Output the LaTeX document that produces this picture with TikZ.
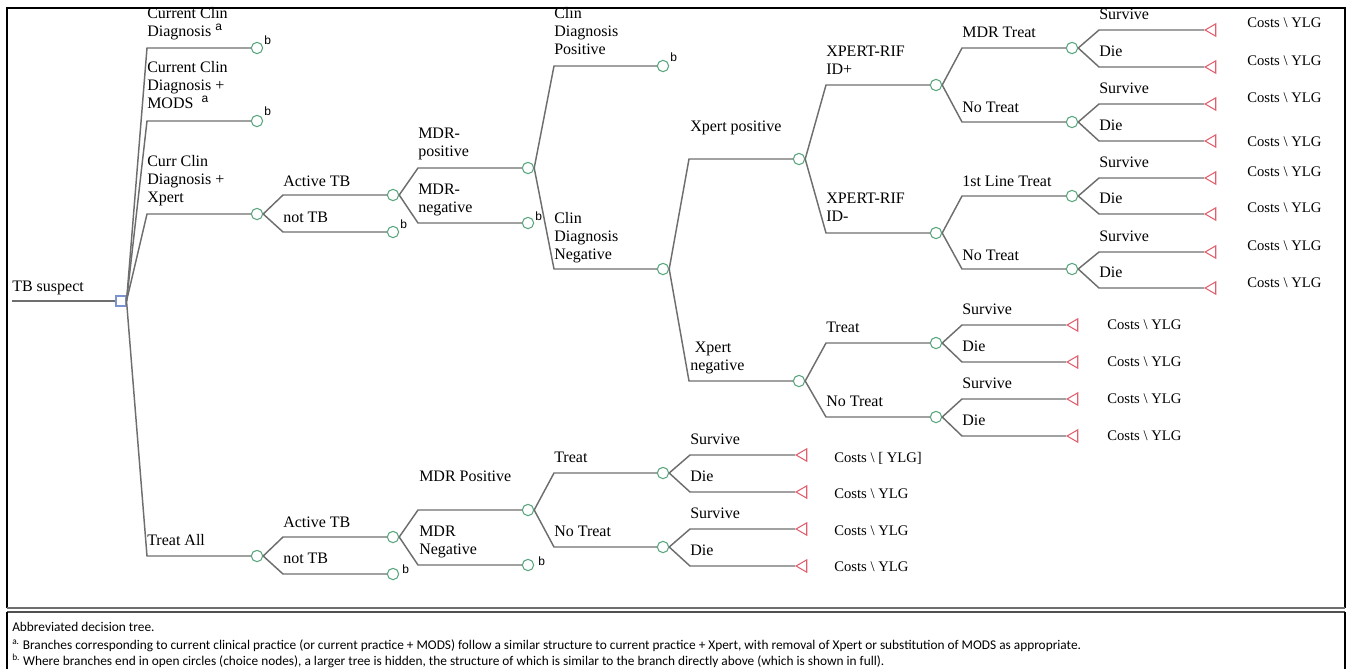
\documentclass[tikz,border=0pt]{standalone}
\usepackage{fontspec}
\setmainfont{Liberation Serif}
\newfontfamily\capfont{Carlito}
\newfontfamily\supfont{Liberation Sans}
\usetikzlibrary{shapes.geometric}
\definecolor{linegray}{HTML}{6E6E6E}
\definecolor{cgreen}{HTML}{5AA77F}
\definecolor{sqblue}{HTML}{7B93CF}
\definecolor{tred}{HTML}{E0606E}
\definecolor{framegray}{HTML}{505050}
\newcommand\conn[4]{\draw[br] (#1.east) -- (#2,#3) -- (#4);}
\newcommand\supa[2]{\hspace*{#1}\rlap{\raisebox{#2}{\supfont\fontsize{9}{10}\selectfont a}}}
\begin{document}
\begin{tikzpicture}[x=0.75pt,y=-0.75pt,
  br/.style={draw=linegray, line width=1.1pt},
  chance/.style={circle, draw=cgreen, fill=white, line width=0.8pt, minimum size=8.5pt, inner sep=0pt},
  decis/.style={rectangle, draw=sqblue, fill=white, line width=0.8pt, minimum size=7.5pt, inner sep=0pt},
  term/.style={isosceles triangle, isosceles triangle apex angle=60, shape border rotate=180, draw=tred, fill=white, line width=0.8pt, minimum height=8pt, minimum width=8pt, inner sep=0pt, anchor=apex},
  lbl/.style={anchor=south west, inner sep=0pt, text depth=0pt, align=left, font=\fontsize{12}{13.5}\selectfont},
  cost/.style={anchor=west, inner sep=0pt, font=\fontsize{11}{13}\selectfont},
  smark/.style={anchor=base west, inner sep=0pt, font=\supfont\fontsize{9}{10}\selectfont},
  captxt/.style={anchor=base west, inner sep=0pt, font=\capfont\fontsize{10}{12}\selectfont}
]
\useasboundingbox (0,0) rectangle (1353,669);
% frames
\draw[black, line width=0.9pt] (7,608) -- (7,8) -- (1345,8) -- (1345,608);
\draw[linegray, line width=0.8pt] (7,608) -- (1345,608);
\draw[framegray, line width=2pt] (7,612) -- (1345,612);
\draw[black, line width=0.9pt] (7,612) -- (7,669);
\draw[black, line width=0.9pt] (1345,612) -- (1345,669);

% root
\coordinate (root) at (12,301);
\node[decis] (dec) at (121,301) {};
\draw[br] (root) -- (dec.west);
\node[lbl] at (12,292) {TB suspect};

% level 1
\node[chance] (c1) at (257,48) {};
\node[chance] (c2) at (257,121) {};
\node[chance] (c3) at (257,214) {};
\node[chance] (c4) at (257,556) {};
\conn{dec}{147}{48}{c1.west}
\conn{dec}{147}{121}{c2.west}
\conn{dec}{147}{214}{c3.west}
\conn{dec}{147}{556}{c4.west}
\node[lbl] at (147,37) {Current Clin\\Diagnosis\supa{3pt}{4.5pt}};
\node[smark] at (264,44) {b};
\node[lbl] at (147,109) {Current Clin\\Diagnosis +\\MODS\supa{6pt}{4.5pt}};
\node[smark] at (264,115) {b};
\node[lbl] at (147,203) {Curr Clin\\Diagnosis +\\Xpert};
\node[lbl] at (147,546) {Treat All};

% Xpert arm
\node[chance] (c31) at (393,195) {};
\node[chance] (c32) at (393,232) {};
\conn{c3}{283}{195}{c31.west}
\conn{c3}{283}{232}{c32.west}
\node[lbl] at (283,187) {Active TB};
\node[lbl] at (283,223) {not TB};
\node[smark] at (400,228) {b};

\node[chance] (c311) at (528,168) {};
\node[chance] (c312) at (528,223) {};
\conn{c31}{418}{168}{c311.west}
\conn{c31}{418}{223}{c312.west}
\node[lbl] at (418,157) {MDR-\\positive};
\node[lbl] at (418,213) {MDR-\\negative};
\node[smark] at (535,220) {b};

\node[chance] (c3111) at (663,66) {};
\node[chance] (c3112) at (663,269) {};
\conn{c311}{554}{66}{c3111.west}
\conn{c311}{554}{269}{c3112.west}
\node[lbl] at (554,55) {Clin\\Diagnosis\\Positive};
\node[lbl] at (554,260) {Clin\\Diagnosis\\Negative};
\node[smark] at (670,61) {b};

\node[chance] (xp) at (799,159) {};
\node[chance] (xn) at (799,381) {};
\conn{c3112}{689}{159}{xp.west}
\conn{c3112}{689}{381}{xn.west}
\node[lbl] at (690,132) {Xpert positive};
\node[lbl] at (690,371) {\hspace*{3.5pt}Xpert\\negative};

\node[chance] (idp) at (936,85) {};
\node[chance] (idn) at (936,233) {};
\conn{xp}{826}{85}{idp.west}
\conn{xp}{826}{233}{idn.west}
\node[lbl] at (826,75) {XPERT-RIF\\ID+};
\node[lbl] at (826,222) {XPERT-RIF\\ID-};

\node[chance] (mt) at (1072,48) {};
\node[chance] (nt1) at (1072,122) {};
\node[chance] (flt) at (1072,196) {};
\node[chance] (nt2) at (1072,269) {};
\conn{idp}{962}{48}{mt.west}
\conn{idp}{962}{122}{nt1.west}
\conn{idn}{962}{196}{flt.west}
\conn{idn}{962}{269}{nt2.west}
\node[lbl] at (962,38) {MDR Treat};
\node[lbl] at (962,113) {No Treat};
\node[lbl] at (962,187) {1st Line Treat};
\node[lbl] at (962,261) {No Treat};

\node[term] (t1) at (1204,30) {};
\node[term] (t2) at (1204,67) {};
\node[term] (t3) at (1204,104) {};
\node[term] (t4) at (1204,141) {};
\node[term] (t5) at (1204,178) {};
\node[term] (t6) at (1204,214) {};
\node[term] (t7) at (1204,252) {};
\node[term] (t8) at (1204,288) {};
\conn{mt}{1099}{30}{t1.apex}
\conn{mt}{1099}{67}{t2.apex}
\conn{nt1}{1099}{104}{t3.apex}
\conn{nt1}{1099}{141}{t4.apex}
\conn{flt}{1099}{178}{t5.apex}
\conn{flt}{1099}{214}{t6.apex}
\conn{nt2}{1099}{252}{t7.apex}
\conn{nt2}{1099}{288}{t8.apex}
\node[lbl] at (1099,20) {Survive};
\node[lbl] at (1099,57) {Die};
\node[lbl] at (1099,94) {Survive};
\node[lbl] at (1099,131) {Die};
\node[lbl] at (1099,168) {Survive};
\node[lbl] at (1099,204) {Die};
\node[lbl] at (1099,242) {Survive};
\node[lbl] at (1099,278) {Die};
\node[cost] at (1247,23) {Costs \textbackslash{} YLG};
\node[cost] at (1247,61) {Costs \textbackslash{} YLG};
\node[cost] at (1247,98) {Costs \textbackslash{} YLG};
\node[cost] at (1247,142) {Costs \textbackslash{} YLG};
\node[cost] at (1247,172) {Costs \textbackslash{} YLG};
\node[cost] at (1247,208) {Costs \textbackslash{} YLG};
\node[cost] at (1247,246) {Costs \textbackslash{} YLG};
\node[cost] at (1247,283) {Costs \textbackslash{} YLG};

% Xpert negative
\node[chance] (tr) at (936,343) {};
\node[chance] (nt3) at (936,417) {};
\conn{xn}{826}{343}{tr.west}
\conn{xn}{826}{417}{nt3.west}
\node[lbl] at (826,333) {Treat};
\node[lbl] at (826,407) {No Treat};
\node[term] (t9) at (1066,325) {};
\node[term] (t10) at (1066,362) {};
\node[term] (t11) at (1066,399) {};
\node[term] (t12) at (1066,436) {};
\conn{tr}{962}{325}{t9.apex}
\conn{tr}{962}{362}{t10.apex}
\conn{nt3}{962}{399}{t11.apex}
\conn{nt3}{962}{436}{t12.apex}
\node[lbl] at (962,315) {Survive};
\node[lbl] at (962,352) {Die};
\node[lbl] at (962,389) {Survive};
\node[lbl] at (962,426) {Die};
\node[cost] at (1107,325) {Costs \textbackslash{} YLG};
\node[cost] at (1107,362) {Costs \textbackslash{} YLG};
\node[cost] at (1107,399) {Costs \textbackslash{} YLG};
\node[cost] at (1107,436) {Costs \textbackslash{} YLG};

% Treat All arm
\node[chance] (c41) at (393,537) {};
\node[chance] (c42) at (393,574) {};
\conn{c4}{283}{537}{c41.west}
\conn{c4}{283}{574}{c42.west}
\node[lbl] at (283,528) {Active TB};
\node[lbl] at (283,564) {not TB};
\node[smark] at (402,573) {b};

\node[chance] (c411) at (528,510) {};
\node[chance] (c412) at (528,565) {};
\conn{c41}{418}{510}{c411.west}
\conn{c41}{418}{565}{c412.west}
\node[lbl] at (419,482) {MDR Positive};
\node[lbl] at (419,555) {MDR\\Negative};
\node[smark] at (538,565) {b};

\node[chance] (c4111) at (663,473) {};
\node[chance] (c4112) at (663,547) {};
\conn{c411}{554}{473}{c4111.west}
\conn{c411}{554}{547}{c4112.west}
\node[lbl] at (554,463) {Treat};
\node[lbl] at (554,537) {No Treat};

\node[term] (t13) at (795,455) {};
\node[term] (t14) at (795,492) {};
\node[term] (t15) at (795,529) {};
\node[term] (t16) at (795,566) {};
\conn{c4111}{690}{455}{t13.apex}
\conn{c4111}{690}{492}{t14.apex}
\conn{c4112}{690}{529}{t15.apex}
\conn{c4112}{690}{566}{t16.apex}
\node[lbl] at (690,445) {Survive};
\node[lbl] at (690,482) {Die};
\node[lbl] at (690,519) {Survive};
\node[lbl] at (690,556) {Die};
\node[cost] at (834,458) {Costs \textbackslash{} [ YLG]};
\node[cost] at (834,494) {Costs \textbackslash{} YLG};
\node[cost] at (834,531) {Costs \textbackslash{} YLG};
\node[cost] at (834,567) {Costs \textbackslash{} YLG};

% caption
\node[captxt] at (12,631) {Abbreviated decision tree.};
\node[captxt] at (12,649) {\textsuperscript{a.} Branches corresponding to current clinical practice (or current practice + MODS) follow a similar structure to current practice + Xpert, with removal of Xpert or substitution of MODS as appropriate.};
\node[captxt] at (12,665) {\textsuperscript{b.} Where branches end in open circles (choice nodes), a larger tree is hidden, the structure of which is similar to the branch directly above (which is shown in full).};
\end{tikzpicture}
\end{document}
